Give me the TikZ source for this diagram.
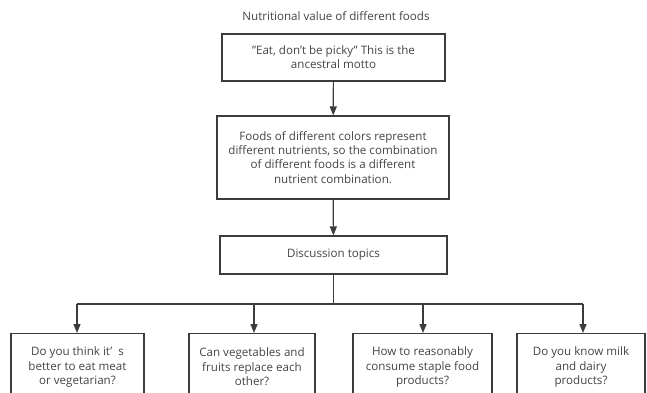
\documentclass[tikz,border=0pt]{standalone}
\usepackage{fontspec}
\setmainfont{Open Sans}
\usetikzlibrary{arrows.meta}
\definecolor{ln}{HTML}{3C3C3C}
\definecolor{tx}{HTML}{444444}
\begin{document}
\begin{tikzpicture}[x=1pt,y=-1pt,
  box/.style={draw=ln,line width=1.2pt,rectangle,inner sep=0pt,align=center,text=tx,font=\fontsize{11.6}{14.2}\selectfont},
  lbl/.style={align=center,text=tx,font=\fontsize{11.6}{14.5}\selectfont,inner sep=0pt},
  arr/.style={draw=ln,line width=1.2pt,-{Triangle[length=9pt,width=7pt]}},
  lin/.style={draw=ln,line width=1.2pt}]
\useasboundingbox (0,0) rectangle (647,392);
\clip (0,0) rectangle (647,392);
\node[lbl] (title) at (336,16) {Nutritional value of different foods};
\node[box,minimum width=223pt,minimum height=47pt] (b1) at (333.5,57.5) {"Eat, don't be picky" This is the\\ancestral motto};
\node[box,minimum width=232pt,minimum height=83pt] (b2) at (333,157.5) {Foods of different colors represent\\different nutrients, so the combination\\of different foods is a different\\nutrient combination.};
\node[box,minimum width=227pt,minimum height=38pt] (b3) at (333.5,255) {Discussion topics};
\foreach \n/\x/\w in {t1/77.5/133, t2/252/126, t3/422.5/139, t4/581/128}{
  \node[box,anchor=north,minimum width=\w pt,minimum height=80pt] (\n) at (\x,333) {};
}
\node[lbl] at ([yshift=-34pt]t1.north) {Do you think it' \ s\\better to eat meat\\or vegetarian?};
\node[lbl] at ([yshift=-34pt]t2.north) {Can vegetables and\\fruits replace each\\other?};
\node[lbl] at ([yshift=-34pt]t3.north) {How to reasonably\\consume staple food\\products?};
\node[lbl] at ([yshift=-34pt]t4.north) {Do you know milk\\and dairy\\products?};
\coordinate (j) at (333.5,304);
\coordinate (j1) at (77,304);
\coordinate (j2) at (254,304);
\coordinate (j3) at (423,304);
\coordinate (j4) at (583,304);
\draw[arr] (b1) -- (b2);
\draw[arr] (b2) -- (b3);
\draw[lin] (b3.south) -- (j);
\draw[lin] (j1) -- (j4);
\draw[arr] (j1) -- (j1 |- t1.north);
\draw[arr] (j2) -- (j2 |- t2.north);
\draw[arr] (j3) -- (j3 |- t3.north);
\draw[arr] (j4) -- (j4 |- t4.north);
\end{tikzpicture}
\end{document}
